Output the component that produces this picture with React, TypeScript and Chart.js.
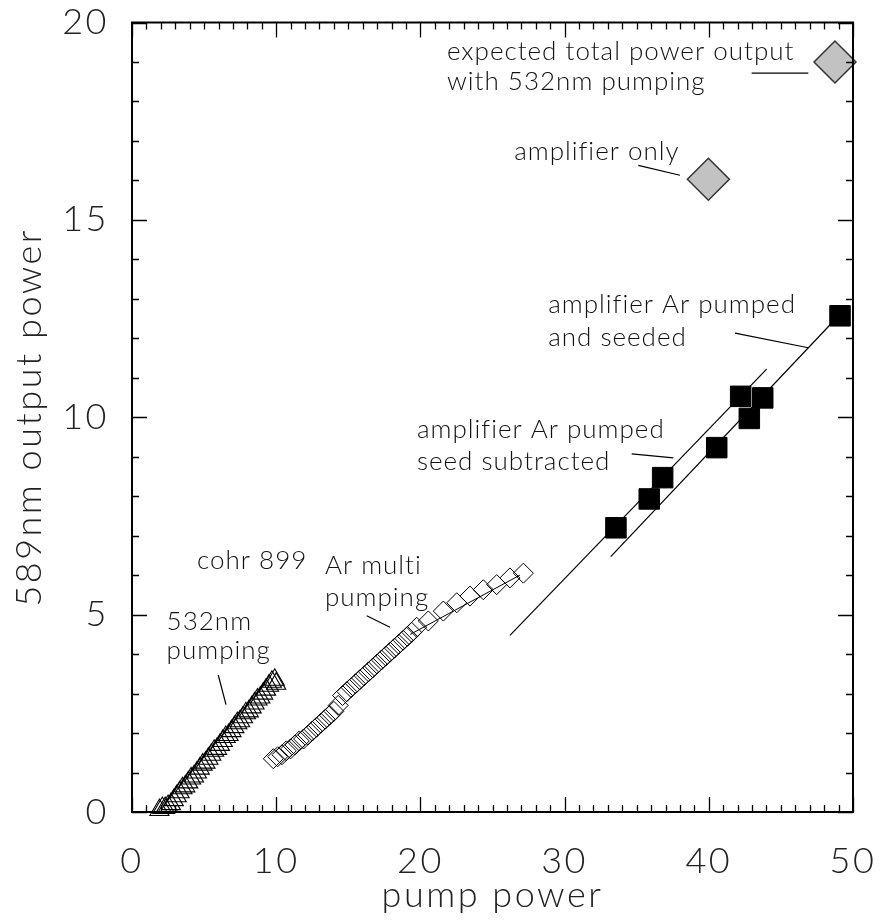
import React, { useEffect, useRef } from "react";
import { Chart, registerables } from "chart.js";

Chart.register(...registerables);

// ---- data ----
const xTickValues = [0, 10, 20, 30, 40, 50];
const yTickValues = [0, 5, 10, 15, 20];

// cohr 899, 532nm pumping (open triangles)
const cohrX = [1.9, 2.1, 2.3, 2.5, 2.7, 2.9, 3.1, 3.3, 3.5, 3.7, 3.9, 4.1, 4.3, 4.5, 4.7, 4.9, 5.1, 5.3, 5.5, 5.7, 5.9, 6.1, 6.3, 6.5, 6.7, 6.9, 7.1, 7.3, 7.5, 7.7, 7.9, 8.1, 8.3, 8.5, 8.7, 8.9, 9.1, 9.3, 9.5, 9.7, 9.9, 10.0];
const cohrY = [0.05, 0.1, 0.1, 0.15, 0.2, 0.3, 0.4, 0.5, 0.6, 0.65, 0.75, 0.85, 0.9, 1.0, 1.1, 1.2, 1.25, 1.35, 1.45, 1.55, 1.6, 1.7, 1.8, 1.9, 1.95, 2.05, 2.15, 2.25, 2.3, 2.4, 2.5, 2.55, 2.65, 2.75, 2.85, 2.9, 3.0, 3.1, 3.2, 3.3, 3.35, 3.25];

// Ar multi pumping (open diamonds)
const arX = [9.8, 10.1, 10.4, 10.7, 11.0, 11.3, 11.6, 11.9, 12.2, 12.5, 12.8, 13.1, 13.4, 13.7, 14.0, 14.3, 14.6, 14.9, 15.2, 15.5, 15.8, 16.1, 16.4, 16.7, 17.0, 17.3, 17.6, 17.9, 18.2, 18.5, 18.8, 19.1, 19.4, 19.74, 20.55, 21.59, 22.52, 23.44, 24.36, 25.29, 26.21, 27.14];
const arY = [1.35, 1.4, 1.45, 1.55, 1.6, 1.7, 1.8, 1.85, 1.95, 2.05, 2.15, 2.25, 2.35, 2.45, 2.55, 2.7, 2.95, 3.05, 3.15, 3.25, 3.35, 3.45, 3.55, 3.65, 3.75, 3.85, 3.95, 4.05, 4.15, 4.25, 4.35, 4.45, 4.55, 4.68, 4.84, 5.09, 5.3, 5.47, 5.63, 5.76, 5.93, 6.05];
const arFitX = [19.3, 26.9];
const arFitY = [4.5, 6.0];

// amplifier Ar pumped (filled squares)
const ampX = [33.56, 35.87, 36.8, 40.55, 42.21, 42.81, 43.74, 49.1];
const ampY = [7.2, 7.93, 8.47, 9.23, 10.53, 9.97, 10.49, 12.57];
const seededLineX = [33.2, 48.43];
const seededLineY = [6.47, 12.35];
const subtractedLineX = [26.21, 44.01];
const subtractedLineY = [4.475, 11.22];

// expected (grey diamonds)
const expX = [39.97, 48.75];
const expY = [16.03, 19.0];

// annotations
const noteText = ["expected total power output", "with 532nm pumping", "amplifier only", "amplifier Ar pumped", "and seeded", "amplifier Ar pumped", "seed subtracted", "cohr 899", "Ar multi", "pumping", "532nm", "pumping"];
const noteX = [21.84, 21.84, 26.5, 28.86, 28.86, 19.76, 19.76, 4.51, 13.38, 13.38, 2.4, 2.4];
const noteY = [19.05, 18.3, 16.51, 12.65, 11.8, 9.47, 8.675, 6.15, 6.03, 5.225, 4.6, 3.88];

const leadX1 = [42.97, 35.11, 41.82, 34.65, 16.28, 5.98];
const leadY1 = [18.72, 16.38, 12.13, 9.07, 4.97, 3.47];
const leadX2 = [46.9, 38.0, 46.9, 37.54, 17.89, 6.52];
const leadY2 = [18.72, 16.13, 11.76, 8.97, 4.68, 2.72];

const FONT = "Lato, 'DejaVu Sans', sans-serif";

const zip = (xs: number[], ys: number[]) => xs.map((x, i) => ({ x, y: ys[i] }));

const framePlugin = {
  id: "frame",
  beforeDraw(chart: any) {
    chart.ctx.letterSpacing = "2.5px";
  },
  afterDatasetsDraw(chart: any) {
    const ctx = chart.ctx;
    const xs = chart.scales.x;
    const ys = chart.scales.y;
    const { left, right, top, bottom } = chart.chartArea;
    ctx.save();
    ctx.strokeStyle = "#000";
    ctx.lineWidth = 2;
    ctx.strokeRect(left, top, right - left, bottom - top);
    ctx.lineWidth = 1.3;
    ctx.beginPath();
    for (let v = 0; v <= 50; v++) {
      const px = Math.round(xs.getPixelForValue(v)) + 0.5;
      const len = v % 10 === 0 ? 15 : 7;
      ctx.moveTo(px, bottom);
      ctx.lineTo(px, bottom - len);
      ctx.moveTo(px, top);
      ctx.lineTo(px, top + len);
    }
    for (let v = 0; v <= 20; v++) {
      const py = Math.round(ys.getPixelForValue(v)) + 0.5;
      const len = v % 5 === 0 ? 15 : 7;
      ctx.moveTo(left, py);
      ctx.lineTo(left + len, py);
      ctx.moveTo(right, py);
      ctx.lineTo(right - len, py);
    }
    ctx.stroke();

    // leader lines
    ctx.lineWidth = 1.2;
    ctx.beginPath();
    for (let i = 0; i < leadX1.length; i++) {
      ctx.moveTo(xs.getPixelForValue(leadX1[i]), ys.getPixelForValue(leadY1[i]));
      ctx.lineTo(xs.getPixelForValue(leadX2[i]), ys.getPixelForValue(leadY2[i]));
    }
    ctx.stroke();

    // notes
    ctx.fillStyle = "#111";
    ctx.font = `300 26px ${FONT}`;
    ctx.letterSpacing = "1px";
    ctx.textAlign = "left";
    ctx.textBaseline = "alphabetic";
    for (let i = 0; i < noteText.length; i++) {
      ctx.fillText(noteText[i], xs.getPixelForValue(noteX[i]), ys.getPixelForValue(noteY[i]));
    }
    ctx.restore();
    ctx.letterSpacing = "2.5px";
  },
  afterDraw(chart: any) {
    chart.ctx.letterSpacing = "0px";
  },
};

export default function App() {
  const ref = useRef<HTMLCanvasElement | null>(null);
  useEffect(() => {
    if (!ref.current) return;
    const chart = new Chart(ref.current, {
      type: "scatter",
      data: {
        datasets: [
          {
            label: "expected",
            data: zip(expX, expY),
            pointStyle: "rectRot",
            pointRadius: 21,
            backgroundColor: "#c2c2c2",
            borderColor: "#333",
            borderWidth: 1.5,
            clip: false,
          } as any,
          {
            label: "amplifier",
            data: zip(ampX, ampY),
            pointStyle: "rect",
            pointRadius: 14.5,
            backgroundColor: "#000",
            borderColor: "#000",
            borderWidth: 1,
            clip: false,
          },
          {
            label: "Ar multi",
            data: zip(arX, arY),
            pointStyle: "rectRot",
            pointRadius: 10,
            backgroundColor: "rgba(255,255,255,0)",
            borderColor: "#000",
            borderWidth: 1,
          },
          {
            label: "cohr 899",
            data: zip(cohrX, cohrY),
            pointStyle: "triangle",
            pointRadius: 11,
            backgroundColor: "rgba(255,255,255,0)",
            borderColor: "#000",
            borderWidth: 1.1,
            clip: false,
          },
          {
            label: "Ar fit",
            data: zip(arFitX, arFitY),
            showLine: true,
            pointRadius: 0,
            borderColor: "#000",
            borderWidth: 1,
          },
          {
            label: "seeded",
            data: zip(seededLineX, seededLineY),
            showLine: true,
            pointRadius: 0,
            borderColor: "#000",
            borderWidth: 1.2,
          },
          {
            label: "subtracted",
            data: zip(subtractedLineX, subtractedLineY),
            showLine: true,
            pointRadius: 0,
            borderColor: "#000",
            borderWidth: 1.2,
          },
        ],
      },
      options: {
        animation: false,
        responsive: true,
        maintainAspectRatio: false,
        layout: { padding: { left: 0, right: 37, top: 12, bottom: 0 } },
        plugins: { legend: { display: false }, tooltip: { enabled: false } },
        scales: {
          x: {
            type: "linear",
            min: 0,
            max: 50,
            afterBuildTicks: (s: any) => {
              s.ticks = xTickValues.map((v) => ({ value: v }));
            },
            afterFit: (s: any) => {
              s.height = 112;
              s.paddingLeft = 0;
              s.paddingRight = 0;
              s.paddingTop = 0;
              s.paddingBottom = 0;
            },
            ticks: {
              padding: 20,
              color: "#222",
              font: { family: FONT, size: 36, weight: "300" },
              maxRotation: 0,
              autoSkip: false,
            },
            grid: { display: false },
            border: { display: false },
            title: {
              display: true,
              text: "pump power",
              color: "#222",
              font: { family: FONT, size: 36, weight: "300" },
              padding: { top: 0, bottom: 7 },
            },
          },
          y: {
            type: "linear",
            min: 0,
            max: 20,
            afterBuildTicks: (s: any) => {
              s.ticks = yTickValues.map((v) => ({ value: v }));
            },
            afterFit: (s: any) => {
              s.width = 132;
              s.paddingLeft = 0;
              s.paddingRight = 0;
              s.paddingTop = 0;
              s.paddingBottom = 0;
            },
            ticks: {
              padding: 15,
              color: "#222",
              font: { family: FONT, size: 36, weight: "300" },
              autoSkip: false,
            },
            grid: { display: false },
            border: { display: false },
            title: {
              display: true,
              text: "589nm output power",
              color: "#222",
              font: { family: FONT, size: 36, weight: "300" },
              padding: { top: 8, bottom: 0 },
            },
          },
        },
      },
      plugins: [framePlugin],
    });
    return () => chart.destroy();
  }, []);

  return (
    <div style={{ position: "absolute", left: 0, top: 0, width: 890, height: 924, background: "#fff" }}>
      <canvas ref={ref} style={{ display: "block" }} />
    </div>
  );
}
